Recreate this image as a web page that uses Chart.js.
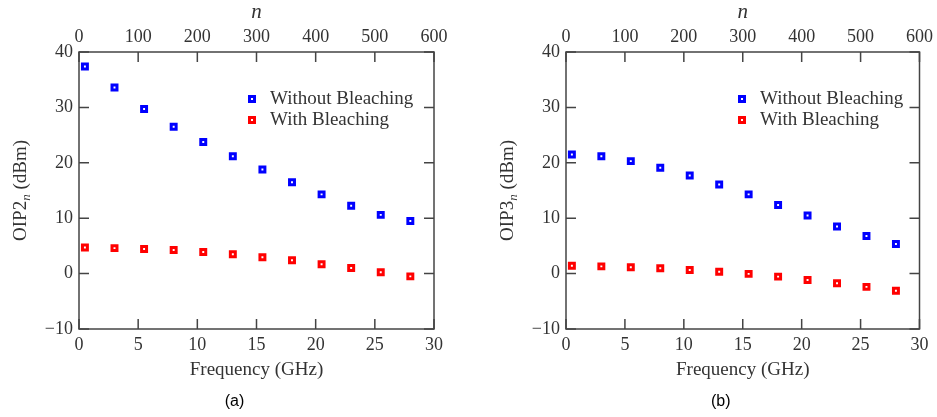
<!DOCTYPE html>
<html>
<head>
<meta charset="utf-8">
<script src="https://cdn.jsdelivr.net/npm/chart.js@4.4.1/dist/chart.umd.min.js"></script>
<style>
  body { margin: 0; background: #fff; }
  #wrap { position: relative; width: 937px; height: 417px; }
  canvas { position: absolute; top: 0; }
</style>
</head>
<body>
<div id="wrap">
  <canvas id="chart-a" width="468" height="417" style="left:0"></canvas>
  <canvas id="chart-b" width="469" height="417" style="left:468px"></canvas>
</div>
<script>
const freqGHz = [0.5, 3, 5.5, 8, 10.5, 13, 15.5, 18, 20.5, 23, 25.5, 28];
const oip2Without = [37.4, 33.6, 29.7, 26.5, 23.75, 21.2, 18.8, 16.5, 14.3, 12.25, 10.6, 9.5];
const oip2With = [4.7, 4.6, 4.45, 4.27, 3.9, 3.5, 2.95, 2.4, 1.7, 1.0, 0.25, -0.5];
const oip3Without = [21.5, 21.2, 20.3, 19.1, 17.7, 16.1, 14.3, 12.4, 10.5, 8.5, 6.8, 5.35];
const oip3With = [1.4, 1.3, 1.15, 0.95, 0.65, 0.35, -0.05, -0.55, -1.15, -1.75, -2.4, -3.1];
const seriesLabels = ["Without Bleaching", "With Bleaching"];

const serif = "'Liberation Serif', 'DejaVu Serif', serif";
const inkColor = '#333';

function points(ys) {
  return ys.map((y, i) => ({x: freqGHz[i], y: y}));
}

// inward ticks, frame, titles and legend
const framePlugin = {
  id: 'frame',
  afterDraw(chart, args, opts) {
    const ctx = chart.ctx;
    const a = chart.chartArea;
    const sx = chart.scales.x, sx2 = chart.scales.x2, sy = chart.scales.y;
    ctx.save();
    ctx.strokeStyle = '#444';
    ctx.lineWidth = 1.5;
    ctx.strokeRect(a.left, a.top, a.right - a.left, a.bottom - a.top);
    const tl = 10;
    ctx.beginPath();
    sx.ticks.forEach(t => {
      const p = sx.getPixelForValue(t.value);
      ctx.moveTo(p, a.bottom); ctx.lineTo(p, a.bottom - tl);
    });
    sx2.ticks.forEach(t => {
      const p = sx2.getPixelForValue(t.value);
      ctx.moveTo(p, a.top); ctx.lineTo(p, a.top + tl);
    });
    sy.ticks.forEach(t => {
      const p = sy.getPixelForValue(t.value);
      ctx.moveTo(a.left, p); ctx.lineTo(a.left + tl, p);
      ctx.moveTo(a.right, p); ctx.lineTo(a.right - tl, p);
    });
    ctx.stroke();

    const cx = (a.left + a.right) / 2;
    ctx.fillStyle = inkColor;
    ctx.textAlign = 'center';
    ctx.textBaseline = 'middle';
    ctx.font = '19px ' + serif;
    ctx.fillText('Frequency (GHz)', cx, 370);
    ctx.font = 'italic 21px ' + serif;
    ctx.fillText('n', cx, 12);
    ctx.font = '16px "Liberation Sans", Arial, sans-serif';
    ctx.fillStyle = '#000';
    ctx.fillText(opts.panel, cx - 22, 402);

    // y title with subscript
    ctx.fillStyle = inkColor;
    ctx.save();
    ctx.translate(a.left - 59, (a.top + a.bottom) / 2);
    ctx.rotate(-Math.PI / 2);
    ctx.textAlign = 'left';
    ctx.textBaseline = 'alphabetic';
    const big = '19px ' + serif, small = 'italic 13px ' + serif;
    ctx.font = big; const w1 = ctx.measureText(opts.yMain).width;
    ctx.font = small; const w2 = ctx.measureText('n').width;
    ctx.font = big; const w3 = ctx.measureText(' (dBm)').width;
    let x0 = -(w1 + w2 + w3) / 2;
    ctx.font = big; ctx.fillText(opts.yMain, x0, 6);
    ctx.font = small; ctx.fillText('n', x0 + w1, 10);
    ctx.font = big; ctx.fillText(' (dBm)', x0 + w1 + w2, 6);
    ctx.restore();

    // legend
    ctx.font = '19px ' + serif;
    ctx.textAlign = 'left';
    ctx.textBaseline = 'middle';
    chart.data.datasets.forEach((ds, i) => {
      const mx = a.left + opts.legendDx, my = a.top + 47 + i * 21;
      ctx.fillStyle = ds.borderColor;
      ctx.fillRect(mx - 4, my - 4, 8, 8);
      ctx.fillStyle = '#fff';
      ctx.fillRect(mx - 1, my - 1, 2, 2);
      ctx.fillStyle = inkColor;
      ctx.fillText(ds.label, mx + 18, my);
    });
    ctx.restore();
  }
};

function makeChart(id, yMain, panel, without, withB, leftW, rightPad, legendDx) {
  const tickFont = {family: serif, size: 18};
  return new Chart(document.getElementById(id), {
    type: 'scatter',
    data: {
      datasets: [
        {label: seriesLabels[0], data: points(without), borderColor: '#0000ff', backgroundColor: '#ffffff'},
        {label: seriesLabels[1], data: points(withB), borderColor: '#ff0000', backgroundColor: '#ffffff'}
      ]
    },
    options: {
      responsive: false,
      animation: false,
      devicePixelRatio: 1,
      layout: {padding: {left: 0, right: rightPad, top: 0, bottom: 0}},
      elements: {point: {pointStyle: 'rect', radius: 3.5, borderWidth: 3, hoverRadius: 3.5}},
      plugins: {
        legend: {display: false},
        tooltip: {enabled: false},
        frame: {yMain: yMain, panel: panel, legendDx: legendDx}
      },
      scales: {
        x: {
          type: 'linear', position: 'bottom', min: 0, max: 30,
          ticks: {stepSize: 5, font: tickFont, color: inkColor, padding: 5, maxRotation: 0},
          grid: {display: false, drawTicks: false}, border: {display: false},
          afterFit: s => { s.height = 88; }
        },
        x2: {
          type: 'linear', position: 'top', min: 0, max: 600,
          ticks: {stepSize: 100, font: tickFont, color: inkColor, padding: 4, maxRotation: 0},
          grid: {display: false, drawTicks: false}, border: {display: false},
          afterFit: s => { s.height = 52; }
        },
        y: {
          min: -10, max: 40,
          ticks: {stepSize: 10, font: tickFont, color: inkColor, padding: 6,
            callback: v => v < 0 ? '\u2212' + Math.abs(v) : v},
          grid: {display: false, drawTicks: false}, border: {display: false},
          afterFit: s => { s.width = leftW; }
        }
      }
    },
    plugins: [framePlugin]
  });
}

makeChart('chart-a', 'OIP2', '(a)', oip2Without, oip2With, 79, 34, 173);
makeChart('chart-b', 'OIP3', '(b)', oip3Without, oip3With, 98, 16, 176);
</script>
</body>
</html>
